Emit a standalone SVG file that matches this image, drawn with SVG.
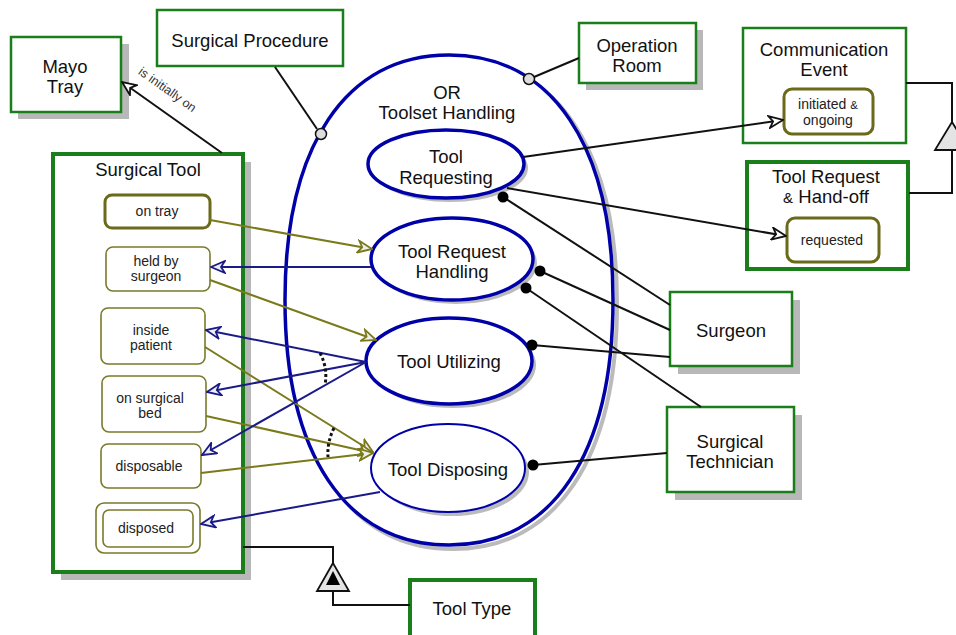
<svg xmlns="http://www.w3.org/2000/svg" width="956" height="635" viewBox="0 0 956 635">
<style>
text{font-family:"Liberation Sans",Arial,sans-serif;fill:#111;text-anchor:middle}
.lbl{font-size:18.5px}
.st{font-size:14px;fill:#222}
.obj{fill:#fff;stroke:#1a7f1a;stroke-width:2.5}
.objT{fill:#fff;stroke:#1a7f1a;stroke-width:4}
.sh{fill:#b8b8b8}
.state{fill:#fff;stroke:#7a7a2a;stroke-width:1.6}
.stateT{fill:#fff;stroke:#6a6a1a;stroke-width:3}
.proc{fill:#fff;stroke:#0000a8;stroke-width:3.5}
.procN{fill:#fff;stroke:#0000a8;stroke-width:2}
.ln{fill:none;stroke:#111;stroke-width:2}
.ol{fill:none;stroke:#7a7a1a;stroke-width:2;marker-end:url(#aO)}
.bl{fill:none;stroke:#1a1a88;stroke-width:2;marker-end:url(#aB)}
.bk{fill:none;stroke:#111;stroke-width:2;marker-end:url(#aK)}
.dot{fill:#000}
.cir{fill:#ddd;stroke:#111;stroke-width:1.5}
.dash{fill:none;stroke:#111;stroke-width:3;stroke-dasharray:3,2.5}
</style>
<defs>
<marker id="aO" markerUnits="userSpaceOnUse" markerWidth="16" markerHeight="14" refX="15" refY="7" orient="auto"><path d="M1,1 L15,7 L1,13 L5,7 Z" fill="#eee" stroke="#7a7a1a" stroke-width="1.8"/></marker>
<marker id="aB" markerUnits="userSpaceOnUse" markerWidth="16" markerHeight="14" refX="15" refY="7" orient="auto"><path d="M1,1 L15,7 L1,13 L5,7 Z" fill="#eee" stroke="#1a1a88" stroke-width="1.8"/></marker>
<marker id="aK" markerUnits="userSpaceOnUse" markerWidth="16" markerHeight="14" refX="15" refY="7" orient="auto"><path d="M1,1 L15,7 L1,13 L5,7 Z" fill="#fff" stroke="#111" stroke-width="1.8"/></marker>
</defs>

<g id="or-toolset-handling">
<path d="M453,59 C556.3,59 617,149.6 617,304 C617,458.4 556.3,549 453,549 C349.7,549 289,458.4 289,304 C289,149.6 349.7,59 453,59 Z" fill="none" stroke="#bbb" stroke-width="4"/>
<path d="M449,55 C552.3,55 613,145.6 613,300 C613,454.4 552.3,545 449,545 C345.7,545 285,454.4 285,300 C285,145.6 345.7,55 449,55 Z" fill="#fff" stroke="#0000a8" stroke-width="3.5"/>
<text class="lbl" x="447" y="99">OR</text>
<text class="lbl" x="447" y="119">Toolset Handling</text>
</g>

<g id="mayo-tray">
<rect class="sh" x="18" y="44" width="111" height="75"/>
<rect class="obj" x="11" y="37" width="110" height="75"/>
<text class="lbl" x="65" y="73">Mayo</text>
<text class="lbl" x="65" y="93">Tray</text>
</g>

<g id="surgical-procedure">
<rect class="obj" x="157" y="10" width="186" height="56"/>
<text class="lbl" x="250" y="47">Surgical Procedure</text>
</g>

<g id="operation-room">
<rect class="sh" x="586" y="30" width="117" height="60"/>
<rect class="obj" x="579" y="23" width="117" height="60"/>
<text class="lbl" x="637" y="52">Operation</text>
<text class="lbl" x="637" y="72">Room</text>
</g>

<g id="communication-event">
<rect class="obj" x="743" y="28" width="163" height="115"/>
<text class="lbl" x="824" y="56">Communication</text>
<text class="lbl" x="824" y="76">Event</text>
<g id="state-initiated">
<rect class="stateT" x="784" y="89" width="89" height="45" rx="8"/>
<text class="st" x="828" y="109">initiated <tspan font-size="11.5">&amp;</tspan></text>
<text class="st" x="828" y="125">ongoing</text>
</g>
</g>

<g id="tool-request-handoff">
<rect class="objT" x="747" y="162" width="161" height="107"/>
<text class="lbl" x="826" y="183">Tool Request</text>
<text class="lbl" x="826" y="203"><tspan font-size="15">&amp;</tspan> Hand-off</text>
<g id="state-requested">
<rect class="stateT" x="787" y="218" width="92" height="44" rx="8"/>
<text class="st" x="832" y="245">requested</text>
</g>
</g>

<g id="surgical-tool">
<rect class="sh" x="61" y="162" width="190" height="418"/>
<rect class="objT" x="53" y="154" width="190" height="418"/>
<text class="lbl" x="148" y="176">Surgical Tool</text>
<g id="state-on-tray"><rect class="stateT" x="105" y="195" width="105" height="33" rx="7"/><text class="st" x="157" y="216">on tray</text></g>
<g id="state-held"><rect class="state" x="106" y="247" width="104" height="44" rx="7"/><text class="st" x="156" y="266">held by</text><text class="st" x="156" y="281">surgeon</text></g>
<g id="state-inside"><rect class="state" x="101" y="308" width="104" height="56" rx="7"/><text class="st" x="151" y="335">inside</text><text class="st" x="151" y="350">patient</text></g>
<g id="state-bed"><rect class="state" x="102" y="376" width="104" height="56" rx="7"/><text class="st" x="150" y="403">on surgical</text><text class="st" x="150" y="418">bed</text></g>
<g id="state-disposable"><rect class="state" x="101" y="444" width="100" height="44" rx="7"/><text class="st" x="149" y="471">disposable</text></g>
<g id="state-disposed"><rect class="state" x="96" y="503" width="104" height="50" rx="8"/><rect class="state" x="103" y="510" width="90" height="37" rx="6"/><text class="st" x="146" y="533">disposed</text></g>
</g>

<g id="tool-requesting">
<ellipse cx="450" cy="168" rx="78" ry="34" fill="#bbb"/>
<ellipse class="proc" cx="446" cy="164" rx="78" ry="34"/>
<text class="lbl" x="446" y="163">Tool</text>
<text class="lbl" x="446" y="184">Requesting</text>
</g>
<g id="tool-request-handling">
<ellipse cx="456" cy="263" rx="81" ry="41" fill="#bbb"/>
<ellipse class="proc" cx="452" cy="259" rx="81" ry="41"/>
<text class="lbl" x="452" y="258">Tool Request</text>
<text class="lbl" x="452" y="278">Handling</text>
</g>
<g id="tool-utilizing">
<ellipse cx="453" cy="365" rx="83" ry="43" fill="#bbb"/>
<ellipse class="proc" cx="449" cy="361" rx="83" ry="43"/>
<text class="lbl" x="449" y="368">Tool Utilizing</text>
</g>
<g id="tool-disposing">
<ellipse cx="452" cy="472" rx="77" ry="44" fill="#bbb"/>
<ellipse class="procN" cx="448" cy="468" rx="77" ry="44"/>
<text class="lbl" x="448" y="476">Tool Disposing</text>
</g>

<g id="surgeon">
<rect class="sh" x="678" y="300" width="122" height="74"/>
<rect class="obj" x="670" y="292" width="122" height="74"/>
<text class="lbl" x="731" y="337">Surgeon</text>
</g>
<g id="surgical-technician">
<rect class="sh" x="675" y="415" width="127" height="85"/>
<rect class="obj" x="667" y="407" width="127" height="85"/>
<text class="lbl" x="730" y="448">Surgical</text>
<text class="lbl" x="730" y="468">Technician</text>
</g>
<g id="tool-type">
<rect class="objT" x="410" y="580" width="125" height="58"/>
<text class="lbl" x="472" y="615">Tool Type</text>
</g>

<g id="connectors">
<line class="ln" x1="275" y1="67" x2="317" y2="129"/>
<circle class="cir" cx="321" cy="134" r="5.5"/>
<line class="ln" x1="579" y1="58" x2="534" y2="77"/>
<circle class="cir" cx="529" cy="79" r="5.5"/>
<line class="bk" x1="222" y1="153" x2="122" y2="82"/>
<text font-size="12.5" style="fill:#333" transform="translate(165,93) rotate(35.4)">is initially on</text>
<line class="bk" x1="523" y1="157" x2="783" y2="120"/>
<line class="bk" x1="507" y1="188" x2="786" y2="236"/>
<line class="ln" x1="503" y1="197" x2="670" y2="305"/>
<circle class="dot" cx="503" cy="197" r="5.5"/>
<line class="ln" x1="540" y1="271" x2="670" y2="330"/>
<circle class="dot" cx="540" cy="271" r="5.5"/>
<line class="ln" x1="526" y1="288" x2="701" y2="407"/>
<circle class="dot" cx="526" cy="288" r="5.5"/>
<line class="ln" x1="532" y1="345" x2="670" y2="357"/>
<circle class="dot" cx="532" cy="345" r="5.5"/>
<line class="ln" x1="533" y1="465" x2="667" y2="453"/>
<circle class="dot" cx="533" cy="465" r="5.5"/>

<line class="ol" x1="210" y1="220" x2="372" y2="249"/>
<line class="ol" x1="210" y1="280" x2="376" y2="340"/>
<line class="ol" x1="205" y1="347" x2="373" y2="452"/>
<line class="ol" x1="206" y1="416" x2="373" y2="453"/>
<line class="ol" x1="201" y1="473" x2="373" y2="453"/>

<line class="bl" x1="371" y1="267" x2="211" y2="267"/>
<line class="bl" x1="366" y1="362" x2="206" y2="330"/>
<line class="bl" x1="366" y1="362" x2="207" y2="392"/>
<line class="bl" x1="366" y1="362" x2="202" y2="455"/>
<line class="bl" x1="380" y1="492" x2="201" y2="524"/>

<path class="dash" d="M320,353 Q328,368 325,385"/>
<path class="dash" d="M334,428 Q327,442 328,457"/>

<polyline class="ln" points="243,547 333,547 333,563"/>
<polygon points="333,563 317,591 349,591" fill="#e4e4e4" stroke="#111" stroke-width="1.8"/>
<polygon points="333,571 326,585 340,585" fill="#000"/>
<polyline class="ln" points="333,591 333,605 410,605"/>

<polyline class="ln" points="906,83 952,83 952,122"/>
<polygon points="952,122 935,150 969,150" fill="#e4e4e4" stroke="#111" stroke-width="1.8"/>
<polyline class="ln" points="952,150 952,193 909,193"/>
</g>
</svg>
